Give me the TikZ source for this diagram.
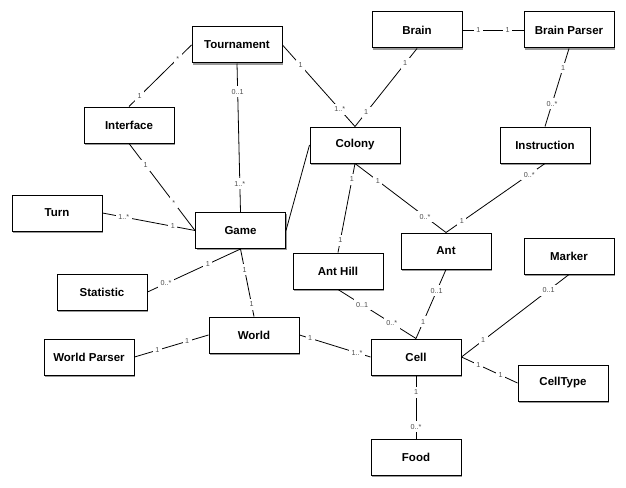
\documentclass[tikz,border=0pt]{standalone}
\usepackage{fontspec}
\setmainfont{Liberation Sans}
\usetikzlibrary{shadows}
\begin{document}
\begin{tikzpicture}[x=1pt,y=-1pt,
  cls/.style={draw=black,line width=1pt,fill=white,minimum width=90pt,minimum height=36pt,
    inner sep=0pt,font=\fontsize{11.5}{12}\selectfont\bfseries,
    drop shadow={shadow xshift=1.3pt,shadow yshift=-1.8pt,opacity=0.4,fill=black}},
  assoc/.style={draw=black,line width=0.8pt},
  mult/.style={fill=white,text=black!70,inner xsep=2.5pt,inner ysep=3pt,font=\fontsize{7.2}{7.2}\selectfont}]
\useasboundingbox (0,0) rectangle (626,487);
\fill[white] (0,0) rectangle (626,487);
\node[cls] (Tournament) at (237,45) {Tournament};
\node[cls] (Interface) at (129,125) {Interface};
\node[cls] (Turn) at (57,213) {Turn};
\node[cls] (Game) at (240.5,230.5) {Game};
\node[cls] (Brain) at (417,30) {Brain};
\node[cls] (BrainParser) at (569,30) {Brain Parser};
\node[cls] (Colony) at (355,145) {Colony};
\node[cls] (Instruction) at (545,145) {Instruction};
\node[cls] (Ant) at (446,251) {Ant};
\node[cls] (AntHill) at (338,271) {Ant Hill};
\node[cls] (Statistic) at (102,292) {Statistic};
\node[cls] (World) at (254,335) {World};
\node[cls] (WorldParser) at (89,357) {World Parser};
\node[cls] (Cell) at (416,357) {Cell};
\node[cls] (Marker) at (569,256) {Marker};
\node[cls] (CellType) at (563,383) {CellType};
\node[cls] (Food) at (416,457) {Food};
\path[assoc] (Interface.north) -- node[mult,pos=0.17]{1} node[mult,pos=0.78]{*} (Tournament.west);
\path[assoc] (Tournament.south) -- node[mult,pos=0.19]{0..1} node[mult,pos=0.81]{1..*} (Game.north);
\path[assoc] (Tournament.east) -- node[mult,pos=0.25]{1} node[mult,pos=0.79]{1..*} (Colony.north);
\path[assoc] (Brain.south) -- node[mult,pos=0.19]{1} node[mult,pos=0.82]{1} (Colony.north);
\path[assoc] (Brain.east) -- node[mult,pos=0.26]{1} node[mult,pos=0.74]{1} (BrainParser.west);
\path[assoc] (BrainParser.south) -- node[mult,pos=0.25]{1} node[mult,pos=0.71]{0..*} (Instruction.north);
\path[assoc] (Colony.west) -- (Game.east);
\path[assoc] (Colony.south) -- node[mult,pos=0.18]{1} node[mult,pos=0.86]{1} (AntHill.north);
\path[assoc] (Colony.south) -- node[mult,pos=0.25]{1} node[mult,pos=0.77]{0..*} (Ant.north);
\path[assoc] (Instruction.south) -- node[mult,pos=0.16]{0..*} node[mult,pos=0.84]{1} (Ant.north);
\path[assoc] (Interface.south) -- node[mult,pos=0.25]{1} node[mult,pos=0.68]{*} (Game.west);
\path[assoc] (Turn.east) -- node[mult,pos=0.23]{1..*} node[mult,pos=0.76]{1} (Game.west);
\path[assoc] (Statistic.east) -- node[mult,pos=0.2]{0..*} node[mult,pos=0.65]{1} (Game.south);
\path[assoc] (Game.south) -- node[mult,pos=0.31]{1} node[mult,pos=0.82]{1} (World.north);
\path[assoc] (WorldParser.east) -- node[mult,pos=0.31]{1} node[mult,pos=0.71]{1} (World.west);
\path[assoc] (World.east) -- node[mult,pos=0.15]{1} node[mult,pos=0.81]{1..*} (Cell.west);
\path[assoc] (AntHill.south) -- node[mult,pos=0.31]{0..1} node[mult,pos=0.69]{0..*} (Cell.north);
\path[assoc] (Ant.south) -- node[mult,pos=0.31]{0..1} node[mult,pos=0.76]{1} (Cell.north);
\path[assoc] (Marker.south) -- node[mult,pos=0.19]{0..1} node[mult,pos=0.8]{1} (Cell.east);
\path[assoc] (Cell.east) -- node[mult,pos=0.3]{1} node[mult,pos=0.7]{1} (CellType.west);
\path[assoc] (Cell.south) -- node[mult,pos=0.27]{1} node[mult,pos=0.81]{0..*} (Food.north);
\end{tikzpicture}
\end{document}
